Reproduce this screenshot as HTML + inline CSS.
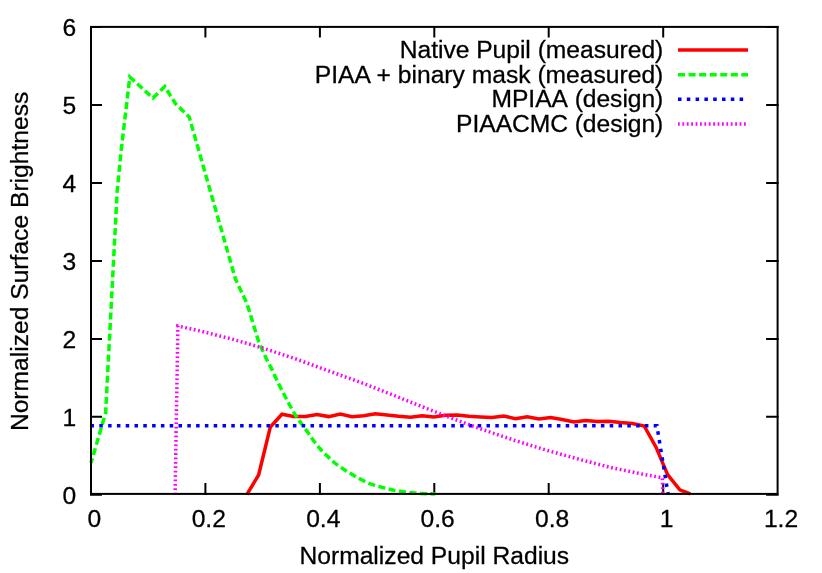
<!DOCTYPE html>
<html><head><meta charset="utf-8"><title>plot</title>
<style>
html,body{margin:0;padding:0;background:#fff;}
svg{display:block;will-change:transform;}
text{font-family:"Liberation Sans",sans-serif;font-size:24.64px;fill:#000;font-kerning:none;stroke:#000;stroke-width:0.28px;}
.c{fill:none;stroke-width:3.52;stroke-linejoin:miter;stroke-linecap:butt;}
.a{stroke:#000;stroke-width:2.00;fill:none;stroke-linecap:butt;}
</style></head><body>
<svg width="822" height="573" viewBox="0 0 822 573">
<rect x="0" y="0" width="822" height="573" fill="#fff"/>
<path class="a" d="M90.0 494.8H102.0M778.6 494.8H766.1"/>
<text x="76.2" y="503.5" text-anchor="end">0</text>
<path class="a" d="M90.0 416.8H102.0M778.6 416.8H766.1"/>
<text x="76.2" y="425.5" text-anchor="end">1</text>
<path class="a" d="M90.0 338.9H102.0M778.6 338.9H766.1"/>
<text x="76.2" y="347.6" text-anchor="end">2</text>
<path class="a" d="M90.0 260.9H102.0M778.6 260.9H766.1"/>
<text x="76.2" y="269.6" text-anchor="end">3</text>
<path class="a" d="M90.0 182.9H102.0M778.6 182.9H766.1"/>
<text x="76.2" y="191.6" text-anchor="end">4</text>
<path class="a" d="M90.0 104.9H102.0M778.6 104.9H766.1"/>
<text x="76.2" y="113.6" text-anchor="end">5</text>
<path class="a" d="M90.0 27.0H102.0M778.6 27.0H766.1"/>
<text x="76.2" y="35.7" text-anchor="end">6</text>
<text x="94.4" y="527.0" text-anchor="middle">0</text>
<path class="a" d="M205.4 494.9V483.0M205.4 25.9V37.6"/>
<text x="208.8" y="527.0" text-anchor="middle">0.2</text>
<path class="a" d="M319.9 494.9V483.0M319.9 25.9V37.6"/>
<text x="323.3" y="527.0" text-anchor="middle">0.4</text>
<path class="a" d="M434.3 494.9V483.0M434.3 25.9V37.6"/>
<text x="437.7" y="527.0" text-anchor="middle">0.6</text>
<path class="a" d="M548.7 494.9V483.0M548.7 25.9V37.6"/>
<text x="552.1" y="527.0" text-anchor="middle">0.8</text>
<path class="a" d="M663.2 494.9V483.0M663.2 25.9V37.6"/>
<text x="666.6" y="527.0" text-anchor="middle">1</text>
<text x="781.0" y="527.0" text-anchor="middle">1.2</text>
<polyline class="c" stroke="#ff0000" points="246.9,494.5 258.6,475.0 270.3,427.0 281.9,414.2 293.6,416.4 305.3,416.4 317.0,414.6 328.7,416.6 340.3,414.0 352.0,416.8 363.7,415.8 375.4,413.8 387.0,415.0 398.7,416.3 410.4,417.3 422.1,415.7 433.8,417.0 445.4,415.3 457.1,415.0 468.8,416.3 480.5,417.0 492.1,417.5 503.8,416.0 515.5,418.7 527.2,416.7 538.9,418.9 550.5,417.5 562.2,419.6 573.9,421.9 585.6,420.4 597.2,421.6 608.9,421.2 620.6,422.5 632.3,423.5 644.2,426.0 655.9,446.9 667.6,474.7 679.8,489.9 690.3,493.9"/>
<polyline class="c" stroke="#00ff00" stroke-dasharray="7.04 3.52" stroke-dashoffset="2.13" points="91.0,463.0 105.6,413.0 117.2,191.0 121.2,150.0 129.8,77.0 153.0,98.1 164.8,86.5 175.6,103.8 189.2,117.0 235.4,279.0 246.9,303.3 258.6,341.5 266.1,358.3 270.9,367.4 275.3,376.9 280.1,386.7 285.0,396.3 289.9,405.5 294.9,414.4 301.5,423.7 307.6,432.0 313.4,440.5 319.8,448.6 327.1,455.9 334.9,463.2 345.2,470.3 357.3,477.6 369.5,483.7 381.7,487.3 393.8,490.2 406.0,492.2 418.2,493.4 435.2,494.0"/>
<polyline class="c" stroke="#0000ff" stroke-dasharray="3.52 5.28" points="90.5,425.8 656.9,425.8 668.2,494.7"/>
<polyline class="c" stroke="#ff00ff" stroke-dasharray="1.76 2.64" points="175.1,494.5 177.9,326.0 201.6,331.3 233.3,339.4 264.9,348.7 296.5,359.2 328.1,370.7 359.8,382.1 391.4,394.4 423.0,407.0 451.6,418.2 483.3,429.8 514.9,440.5 546.5,450.2 578.1,459.0 609.8,467.3 641.4,473.9 662.3,477.8 662.8,494.5"/>
<text x="663.3" y="58.15" text-anchor="end" textLength="263.6" lengthAdjust="spacing">Native Pupil (measured)</text>
<path class="c" stroke="#ff0000"  d="M678 50.0H748"/>
<text x="663.3" y="82.85" text-anchor="end">PIAA<tspan dx="-1.2"> </tspan>+ binary mask (measured)</text>
<path class="c" stroke="#00ff00" stroke-dasharray="7.04 3.52" d="M678 74.7H748"/>
<text x="663.3" y="107.45" text-anchor="end" textLength="171.8" lengthAdjust="spacing">MPIAA (design)</text>
<path class="c" stroke="#0000ff" stroke-dasharray="3.52 5.28" d="M678 99.3H748"/>
<text x="663.3" y="132.15" text-anchor="end" textLength="207.2" lengthAdjust="spacing">PIAACMC (design)</text>
<path class="c" stroke="#ff00ff" stroke-dasharray="1.76 2.64" d="M678 124.0H748"/>
<rect class="a" x="91.0" y="26.9" width="686.6" height="467.0"/>
<text x="434.3" y="563.8" text-anchor="middle">Normalized Pupil Radius</text>
<text transform="translate(27.9,261.4) rotate(-90)" text-anchor="middle">Normalized Surface Brightness</text>
</svg></body></html>
